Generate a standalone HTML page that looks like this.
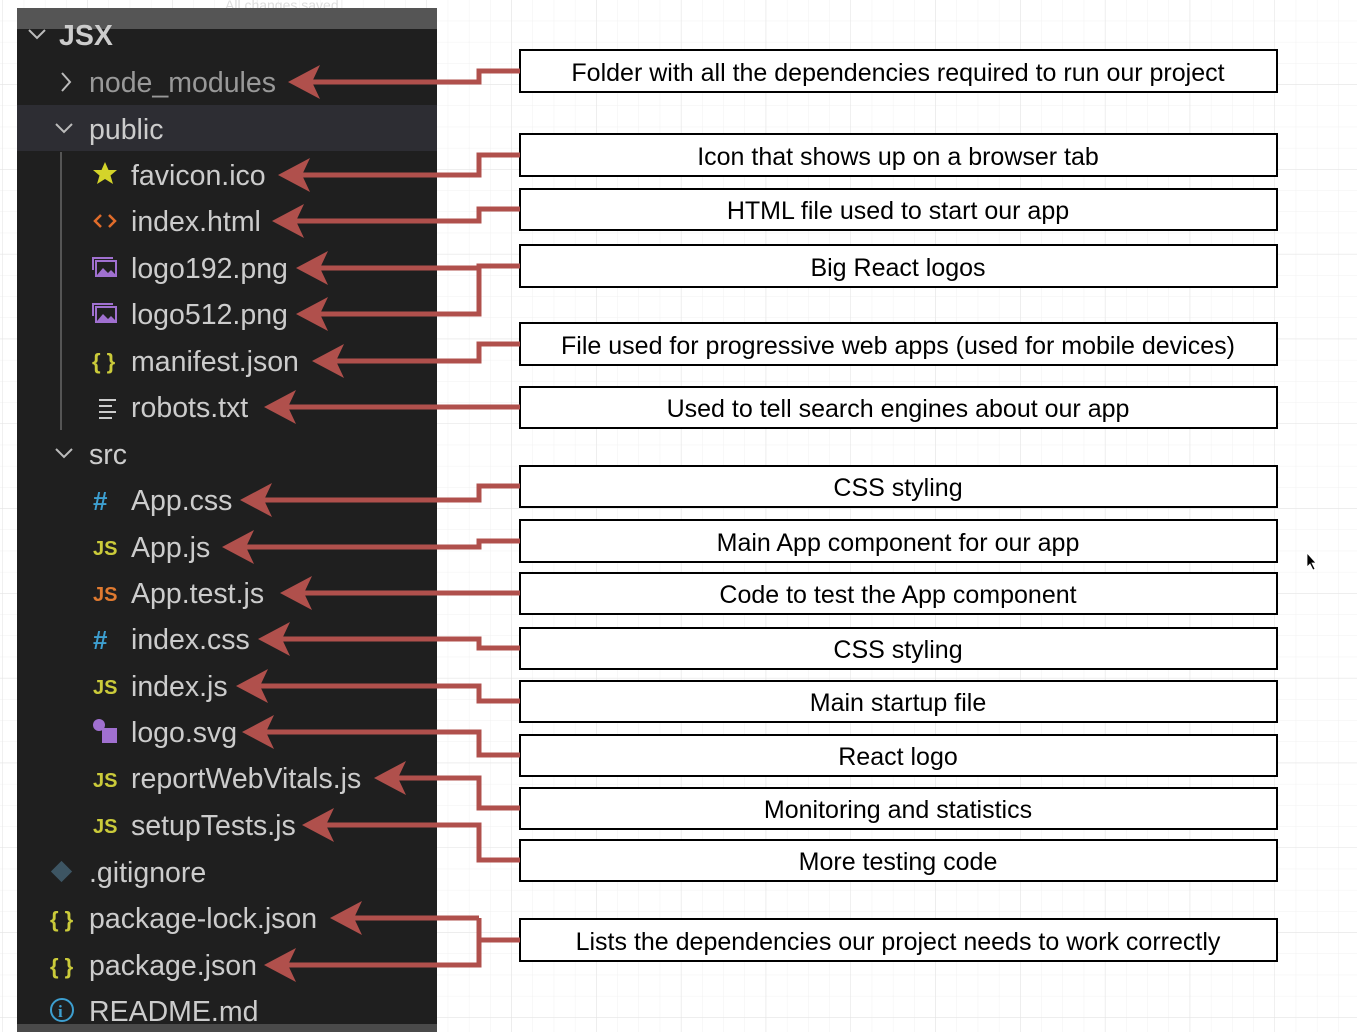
<!DOCTYPE html>
<html><head><meta charset="utf-8"><style>
html,body{margin:0;padding:0;width:1357px;height:1032px;overflow:hidden;background:#fff}
svg{display:block}
.f{font-family:"Liberation Sans",Arial,sans-serif;font-size:28.5px;fill:#cccccc}
.b{font-family:"Liberation Sans",Arial,sans-serif;font-size:25px;fill:#000;text-anchor:middle}
.ic{font-family:"Liberation Sans",Arial,sans-serif;font-weight:bold}
</style></head><body>
<svg width="1357" height="1032" viewBox="0 0 1357 1032" xmlns="http://www.w3.org/2000/svg">
<defs>
<pattern id="gm" width="21.2" height="21.2" patternUnits="userSpaceOnUse" x="3" y="0">
<path d="M21.2 0V21.2M0 21.2H21.2" stroke="#f1f1f1" stroke-width="1" fill="none"/></pattern>
<pattern id="gM" width="84.8" height="84.8" patternUnits="userSpaceOnUse" x="3" y="0">
<path d="M84.8 0V84.8M0 84.8H84.8" stroke="#e2e2e2" stroke-width="1" fill="none"/></pattern>
</defs>
<rect width="1357" height="1032" fill="url(#gm)"/>
<rect width="1357" height="1032" fill="url(#gM)"/>
<text x="225" y="10" font-family="Liberation Sans" font-size="14" fill="#ddd">All changes saved</text>
<rect x="17" y="8" width="420" height="1024" fill="#1f1f1f"/>
<rect x="17" y="8" width="420" height="21" fill="#555"/>
<rect x="17" y="105" width="420" height="46" fill="#2d2d33"/>
<rect x="17" y="1024" width="420" height="8" fill="#4a4a4a"/>
<line x1="61" y1="152" x2="61" y2="430" stroke="#555" stroke-width="2"/>
<g stroke="#bbb" stroke-width="2" fill="none">
<path d="M29 30l8 8 8-8"/>
<path d="M62 73l8 9-8 9"/>
<path d="M56 124l8 8 8-8"/>
<path d="M56 449l8 8 8-8"/>
</g>
<text x="59" y="45" class="f" style="font-weight:bold;fill:#ccc">JSX</text>
<g class="f">
<text x="89" y="92" style="fill:#999">node_modules</text>
<text x="89" y="139">public</text>
<text x="131" y="185">favicon.ico</text>
<text x="131" y="231">index.html</text>
<text x="131" y="278">logo192.png</text>
<text x="131" y="324">logo512.png</text>
<text x="131" y="371">manifest.json</text>
<text x="131" y="417">robots.txt</text>
<text x="89" y="464">src</text>
<text x="131" y="510">App.css</text>
<text x="131" y="557">App.js</text>
<text x="131" y="603">App.test.js</text>
<text x="131" y="649">index.css</text>
<text x="131" y="696">index.js</text>
<text x="131" y="742">logo.svg</text>
<text x="131" y="788">reportWebVitals.js</text>
<text x="131" y="835">setupTests.js</text>
<text x="89" y="882">.gitignore</text>
<text x="89" y="928">package-lock.json</text>
<text x="89" y="975">package.json</text>
<text x="89" y="1021">README.md</text>
</g>
<polygon points="105,162 108.5,170 117,170 110.5,175.5 113,184 105,179 97,184 99.5,175.5 93,170 101.5,170" fill="#d4d42a"/>
<path d="M101 215l-6 6 6 6M109 215l6 6-6 6" stroke="#e06c2a" stroke-width="2.5" fill="none"/>
<g fill="none" stroke="#a070d0" stroke-width="2"><path d="M93 270v-12h20"/><rect x="96" y="261" width="20" height="15"/><path d="M93 316v-12h20"/><rect x="96" y="307" width="20" height="15"/></g>
<path d="M97 275l6-7 5 5 3-3 5 5z M97 321l6-7 5 5 3-3 5 5z" fill="#a070d0"/>
<text x="92" y="369" class="ic" font-size="22" fill="#cbcb3a">{ }</text>
<path d="M99 400h17M99 406h13M99 412h17M99 418h13" stroke="#ccc" stroke-width="2"/>
<text x="93" y="510" class="ic" font-size="26" fill="#3d9fd0">#</text>
<text x="93" y="555" class="ic" font-size="20" fill="#cbcb3a">JS</text>
<text x="93" y="601" class="ic" font-size="20" fill="#e07a30">JS</text>
<text x="93" y="649" class="ic" font-size="26" fill="#3d9fd0">#</text>
<text x="93" y="694" class="ic" font-size="20" fill="#cbcb3a">JS</text>
<circle cx="99" cy="725" r="6" fill="#a070d0"/><rect x="102" y="728" width="15" height="15" fill="#a070d0"/>
<text x="93" y="787" class="ic" font-size="20" fill="#cbcb3a">JS</text>
<text x="93" y="833" class="ic" font-size="20" fill="#cbcb3a">JS</text>
<rect x="54" y="864" width="15" height="15" transform="rotate(45 61.5 871.5)" fill="#3d5563"/>
<text x="50" y="927" class="ic" font-size="22" fill="#cbcb3a">{ }</text>
<text x="50" y="974" class="ic" font-size="22" fill="#cbcb3a">{ }</text>
<circle cx="62" cy="1010" r="11" fill="none" stroke="#3d9fd0" stroke-width="2"/>
<text x="58" y="1017" font-family="Liberation Serif" font-weight="bold" font-size="17" fill="#3d9fd0">i</text>
<g fill="#fff" stroke="#000" stroke-width="2">
<rect x="520" y="50" width="757" height="42"/>
<rect x="520" y="134" width="757" height="42"/>
<rect x="520" y="189" width="757" height="41"/>
<rect x="520" y="245" width="757" height="42"/>
<rect x="520" y="323" width="757" height="42"/>
<rect x="520" y="387" width="757" height="41"/>
<rect x="520" y="466" width="757" height="41"/>
<rect x="520" y="520" width="757" height="42"/>
<rect x="520" y="573" width="757" height="41"/>
<rect x="520" y="628" width="757" height="41"/>
<rect x="520" y="681" width="757" height="41"/>
<rect x="520" y="735" width="757" height="41"/>
<rect x="520" y="788" width="757" height="41"/>
<rect x="520" y="840" width="757" height="41"/>
<rect x="520" y="919" width="757" height="42"/>
</g>
<g class="b">
<text x="898" y="81">Folder with all the dependencies required to run our project</text>
<text x="898" y="165">Icon that shows up on a browser tab</text>
<text x="898" y="219">HTML file used to start our app</text>
<text x="898" y="276">Big React logos</text>
<text x="898" y="354">File used for progressive web apps (used for mobile devices)</text>
<text x="898" y="417">Used to tell search engines about our app</text>
<text x="898" y="496">CSS styling</text>
<text x="898" y="551">Main App component for our app</text>
<text x="898" y="603">Code to test the App component</text>
<text x="898" y="658">CSS styling</text>
<text x="898" y="711">Main startup file</text>
<text x="898" y="765">React logo</text>
<text x="898" y="818">Monitoring and statistics</text>
<text x="898" y="870">More testing code</text>
<text x="898" y="950">Lists the dependencies our project needs to work correctly</text>
</g>
<g stroke="#b0504c" stroke-width="5" fill="none">
<path d="M520 71H479V82H310"/>
<path d="M520 155H479V175H300"/>
<path d="M520 209H479V221H294"/>
<path d="M520 266H479V314H318M479 268H318"/>
<path d="M520 344H479V361H334"/>
<path d="M520 407H286"/>
<path d="M520 486H479V500H262"/>
<path d="M520 541H479V547H244"/>
<path d="M520 593H302"/>
<path d="M520 648H479V639H280"/>
<path d="M520 701H479V686H258"/>
<path d="M520 755H479V732H264"/>
<path d="M520 808H479V778H396"/>
<path d="M520 860H479V825H324"/>
<path d="M520 940H479M479 918V965H286M479 918H352"/>
</g>
<g fill="#b0504c">
<polygon points="288,82 320,65 312,82 320,99"/>
<polygon points="278,175 310,158 302,175 310,192"/>
<polygon points="272,221 304,204 296,221 304,238"/>
<polygon points="296,268 328,251 320,268 328,285"/>
<polygon points="296,314 328,297 320,314 328,331"/>
<polygon points="312,361 344,344 336,361 344,378"/>
<polygon points="264,407 296,390 288,407 296,424"/>
<polygon points="240,500 272,483 264,500 272,517"/>
<polygon points="222,547 254,530 246,547 254,564"/>
<polygon points="280,593 312,576 304,593 312,610"/>
<polygon points="258,639 290,622 282,639 290,656"/>
<polygon points="236,686 268,669 260,686 268,703"/>
<polygon points="242,732 274,715 266,732 274,749"/>
<polygon points="374,778 406,761 398,778 406,795"/>
<polygon points="302,825 334,808 326,825 334,842"/>
<polygon points="330,918 362,901 354,918 362,935"/>
<polygon points="264,965 296,948 288,965 296,982"/>
</g>
<polygon points="1307,553 1307,567 1310,564 1313,570 1315,569 1312,563 1316,563" fill="#000" stroke="#fff" stroke-width="0.8"/>
</svg>
</body></html>
